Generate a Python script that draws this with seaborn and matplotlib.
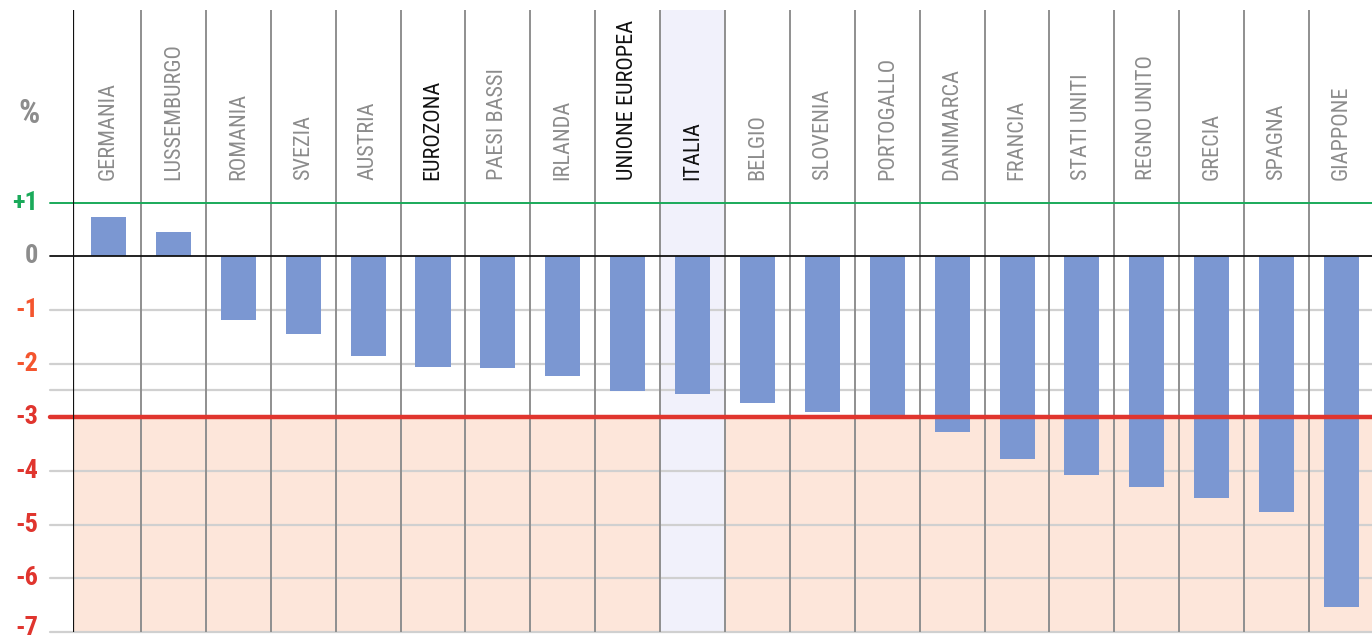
import numpy as np
import pandas as pd
import matplotlib
matplotlib.use('Agg')
import matplotlib.pyplot as plt
import matplotlib.transforms as mtransforms
from matplotlib import font_manager
import seaborn as sns

# Data
countries = ['GERMANIA', 'LUSSEMBURGO', 'ROMANIA', 'SVEZIA', 'AUSTRIA', 'EUROZONA',
             'PAESI BASSI', 'IRLANDA', 'UNIONE EUROPEA', 'ITALIA', 'BELGIO', 'SLOVENIA',
             'PORTOGALLO', 'DANIMARCA', 'FRANCIA', 'STATI UNITI', 'REGNO UNITO',
             'GRECIA', 'SPAGNA', 'GIAPPONE']
values = [0.74, 0.45, -1.18, -1.45, -1.86, -2.06, -2.08, -2.23, -2.51, -2.57,
          -2.73, -2.90, -3.00, -3.27, -3.77, -4.07, -4.29, -4.50, -4.77, -6.54]
dark_labels = ['EUROZONA', 'UNIONE EUROPEA', 'ITALIA']
highlight = 'ITALIA'
y_ticks = [1, 0, -1, -2, -3, -4, -5, -6, -7]
y_tick_labels = ['+1', '0', '-1', '-2', '-3', '-4', '-5', '-6', '-7']
grid_levels = [-1, -2, -2.5, -4, -5, -6, -7]
limit_value = -3

df = pd.DataFrame({'country': countries, 'value': values})

# pick a narrow font if one is there
names = {f.name for f in font_manager.fontManager.ttflist}
font = next((n for n in ['Roboto Condensed', 'Liberation Sans Narrow', 'Open Sans Condensed',
                         'Roboto'] if n in names), 'DejaVu Sans')

sns.set_style('white')
plt.rcParams['font.family'] = [font, 'DejaVu Sans']

fig = plt.figure(figsize=(13.72, 6.41), dpi=100)
ax = fig.add_axes([73 / 1372, 9 / 641, 1299 / 1372, 622 / 641])

sns.barplot(data=df, x='country', y='value', order=countries, color='#7b97d2',
            saturation=1, width=0.54, linewidth=0, edgecolor='none', ax=ax, zorder=3)

ax.set_xlim(-0.548, 19.47)
ax.set_ylim(-7, 4.59)

# background zones
ax.axhspan(-7, limit_value, color='#fde6da', zorder=0, lw=0)
hi = countries.index(highlight)
ax.axvspan(hi - 0.5, hi + 0.5, color='#f1f1fb', zorder=0.5, lw=0)

# horizontal lines, extended a bit to the left of the axis
blend = mtransforms.blended_transform_factory(ax.transAxes, ax.transData)
x0 = -23 / 1299
for lvl in grid_levels:
    ax.plot([x0, 1], [lvl, lvl], transform=blend, color='#d0d0d0', lw=1.6,
            clip_on=False, zorder=1)
ax.plot([x0, 1], [1, 1], transform=blend, color='#1aaa5a', lw=1.4, clip_on=False, zorder=4)
ax.plot([x0, 1], [0, 0], transform=blend, color='#111111', lw=1.3, clip_on=False, zorder=4)
ax.plot([x0, 1], [limit_value] * 2, transform=blend, color='#e0352e', lw=3.2,
        clip_on=False, zorder=4)

# column separators
for i in range(len(countries)):
    ax.axvline(i + 0.5, color='#8f8f8f', lw=1.4, zorder=2)
ax.axvline(-0.548, color='#111111', lw=1.6, zorder=5)

# country labels above the bars
for i, c in enumerate(countries):
    ax.text(i, 1.43, c, rotation=90, ha='center', va='bottom', fontsize=16,
            color='#111111' if c in dark_labels else '#8c8c8c', zorder=6)

# y tick labels (the last one nudged up so it stays inside the figure)
tick_colors = ['#1aaa5a', '#8c8c8c', '#f4552e', '#f4552e', '#e0352e',
               '#e0352e', '#e0352e', '#e0352e', '#e0352e']
for t, lab, col in zip(y_ticks, y_tick_labels, tick_colors):
    ypos = t + 0.07 if t == -7 else t
    ax.text(-35 / 1299, ypos, lab, transform=blend, ha='right', va='center',
            fontsize=19, fontweight='bold', color=col, clip_on=False)
ax.text(-33 / 1299, 2.65, '%', transform=blend, ha='right', va='center',
        fontsize=24, fontweight='bold', color='#8c8c8c')

ax.set_xticks([])
ax.set_yticks([])
ax.set_xlabel('')
ax.set_ylabel('')
for s in ax.spines.values():
    s.set_visible(False)

fig.savefig('out.png', dpi=100)
